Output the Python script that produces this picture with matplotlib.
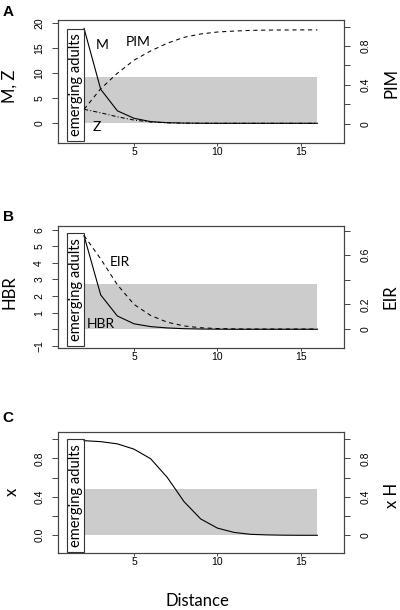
import matplotlib
matplotlib.use("Agg")
import matplotlib.pyplot as plt
from matplotlib.patches import Rectangle

# distance steps shared by all three panels
distance = [2, 3, 4, 5, 6, 7, 8, 9, 10, 11, 12, 13, 14, 15, 16]

# panel A
mosq_m = [19.0, 6.8, 2.5, 1.0, 0.34, 0.12, 0.04, 0.01, 0.0, 0.0, 0.0, 0.0, 0.0, 0.0, 0.0]
mosq_z = [2.8, 2.1, 1.3, 0.65, 0.25, 0.09, 0.03, 0.01, 0.0, 0.0, 0.0, 0.0, 0.0, 0.0, 0.0]
pim = [0.148, 0.36, 0.52, 0.655, 0.75, 0.83, 0.89, 0.925, 0.945, 0.955, 0.962, 0.965,
       0.966, 0.967, 0.967]

# panel B
hbr = [5.64, 2.07, 0.8, 0.33, 0.16, 0.08, 0.035, 0.015, 0.005, 0.0, 0.0, 0.0, 0.0, 0.0, 0.0]
eir = [0.76, 0.57, 0.36, 0.2, 0.11, 0.055, 0.025, 0.01, 0.004, 0.001, 0.0, 0.0, 0.0, 0.0, 0.0]

# panel C
prev_x = [0.983, 0.973, 0.95, 0.895, 0.795, 0.6, 0.35, 0.17, 0.075, 0.03, 0.01, 0.004,
          0.001, 0.0, 0.0]

# grey band (x range and top per panel), emerging adults box (x range, y range)
band_x = [2, 16]
band_top = [9.34, 2.74, 0.483]
box_x = [1, 2]
box_y = [(-3.5, 18.9), (-0.99, 5.78), (-0.17, 0.997)]

x_ticks = [5, 10, 15]

FONT_TXT = ["Lato", "DejaVu Sans"]
FONT_TCK = ["Liberation Sans", "DejaVu Sans"]
SPINE = "#444444"

W, H = 400.0, 610.0
fig = plt.figure(figsize=(4.0, 6.1), dpi=100)


def px_axes(top, bottom, left=57.7, right=344.0):
    return [left / W, 1 - bottom / H, (right - left) / W, (bottom - top) / H]


def style_axes(ax, ax2, ylim, yticks, ylabels, rlim, rticks, rlabels):
    ax.set_xlim(0.42, 17.6)
    ax.set_ylim(*ylim)
    ax2.set_ylim(*rlim)
    ax.set_xticks(x_ticks)
    ax.set_xticklabels([str(t) for t in x_ticks], family=FONT_TCK, fontsize=7.5)
    ax.set_yticks(yticks)
    ax.set_yticklabels(ylabels, family=FONT_TCK, fontsize=7.5, rotation=90, va="center")
    ax2.set_yticks(rticks)
    ax2.set_yticklabels(rlabels, family=FONT_TCK, fontsize=7.5, rotation=90, va="center")
    ax.tick_params(axis="x", length=2.5, pad=0.5, width=0.7, color=SPINE)
    ax.tick_params(axis="y", length=4.2, pad=5.5, width=0.7, color=SPINE)
    ax2.tick_params(axis="y", length=4.5, pad=7.5, width=0.7, color=SPINE)
    for a in (ax, ax2):
        for s in a.spines.values():
            s.set_color(SPINE)
            s.set_linewidth(0.8)


def add_band_and_box(ax, i):
    ax.fill_between(band_x, 0, band_top[i], color="#cccccc", lw=0, zorder=0)
    y0, y1 = box_y[i]
    ax.add_patch(Rectangle((box_x[0], y0), box_x[1] - box_x[0], y1 - y0,
                           fill=False, ec="#333333", lw=0.8, zorder=3))
    ax.text((box_x[0] + box_x[1]) / 2, (y0 + y1) / 2, "emerging adults", rotation=90,
            ha="center", va="center", family=FONT_TXT, fontsize=10.5, zorder=4)


# ---- panel A
axA = fig.add_axes(px_axes(20.0, 142.7))
axA2 = axA.twinx()
add_band_and_box(axA, 0)
axA.plot(distance, mosq_m, color="black", lw=0.8)
axA.plot(distance, mosq_z, color="black", lw=0.75, dashes=(4, 2, 1, 2))
axA2.plot(distance, pim, color="black", lw=0.75, dashes=(4, 3.5))
axA.text(3.06, 15.7, "M", ha="center", va="center", family=FONT_TXT, fontsize=10)
axA.text(5.26, 16.3, "PIM", ha="center", va="center", family=FONT_TXT, fontsize=10)
axA.text(2.76, -0.7, "Z", ha="center", va="center", family=FONT_TXT, fontsize=10)
style_axes(axA, axA2, (-3.88, 20.66), [0, 5, 10, 15, 20], ["0", "5", "10", "15", "20"],
           (-0.196, 1.069), [0, 0.2, 0.4, 0.6, 0.8, 1.0], ["0", "", "0.4", "", "0.8", ""])

# ---- panel B
axB = fig.add_axes(px_axes(225.7, 347.7))
axB2 = axB.twinx()
add_band_and_box(axB, 1)
axB.plot(distance, hbr, color="black", lw=0.8)
axB2.plot(distance, eir, color="black", lw=0.75, dashes=(4, 3.5))
axB.text(4.16, 4.05, "EIR", ha="center", va="center", family=FONT_TXT, fontsize=10)
axB.text(3.0, 0.3, "HBR", ha="center", va="center", family=FONT_TXT, fontsize=10)
style_axes(axB, axB2, (-1.11, 6.24), [-1, 0, 1, 2, 3, 4, 5, 6],
           ["\u22121", "", "1", "2", "3", "4", "5", "6"],
           (-0.152, 0.84), [0, 0.2, 0.4, 0.6, 0.8], ["0", "0.2", "", "0.6", ""])

# ---- panel C
axC = fig.add_axes(px_axes(432.3, 553.3))
axC2 = axC.twinx()
add_band_and_box(axC, 2)
axC.plot(distance, prev_x, color="black", lw=0.8)
style_axes(axC, axC2, (-0.187, 1.07), [0, 0.2, 0.4, 0.6, 0.8, 1.0],
           ["0.0", "", "0.4", "", "0.8", ""],
           (-0.187, 1.07), [0, 0.2, 0.4, 0.6, 0.8, 1.0], ["0", "", "0.4", "", "0.8", ""])

# axis titles and panel letters
def ftext(xp, yp, s, family=FONT_TXT, **kw):
    fig.text(xp / W, 1 - yp / H, s, family=family, ha="center", va="center", **kw)


ftext(10, 86.7, "M, Z", rotation=90, fontsize=12)
ftext(391, 83.3, "PIM", rotation=90, fontsize=12)
ftext(10, 291.7, "HBR", rotation=90, fontsize=12)
ftext(390.5, 296.7, "EIR", rotation=90, fontsize=12)
ftext(11.7, 491.7, "x", rotation=90, fontsize=12)
ftext(392, 495, "x H", rotation=90, fontsize=12)
ftext(197.7, 600.7, "Distance", fontsize=12)
ftext(8, 12, "A", family=FONT_TCK, fontsize=11, weight="bold")
ftext(8, 216.7, "B", family=FONT_TCK, fontsize=11, weight="bold")
ftext(8, 418.3, "C", family=FONT_TCK, fontsize=11, weight="bold")

fig.savefig("out.png", dpi=100)
